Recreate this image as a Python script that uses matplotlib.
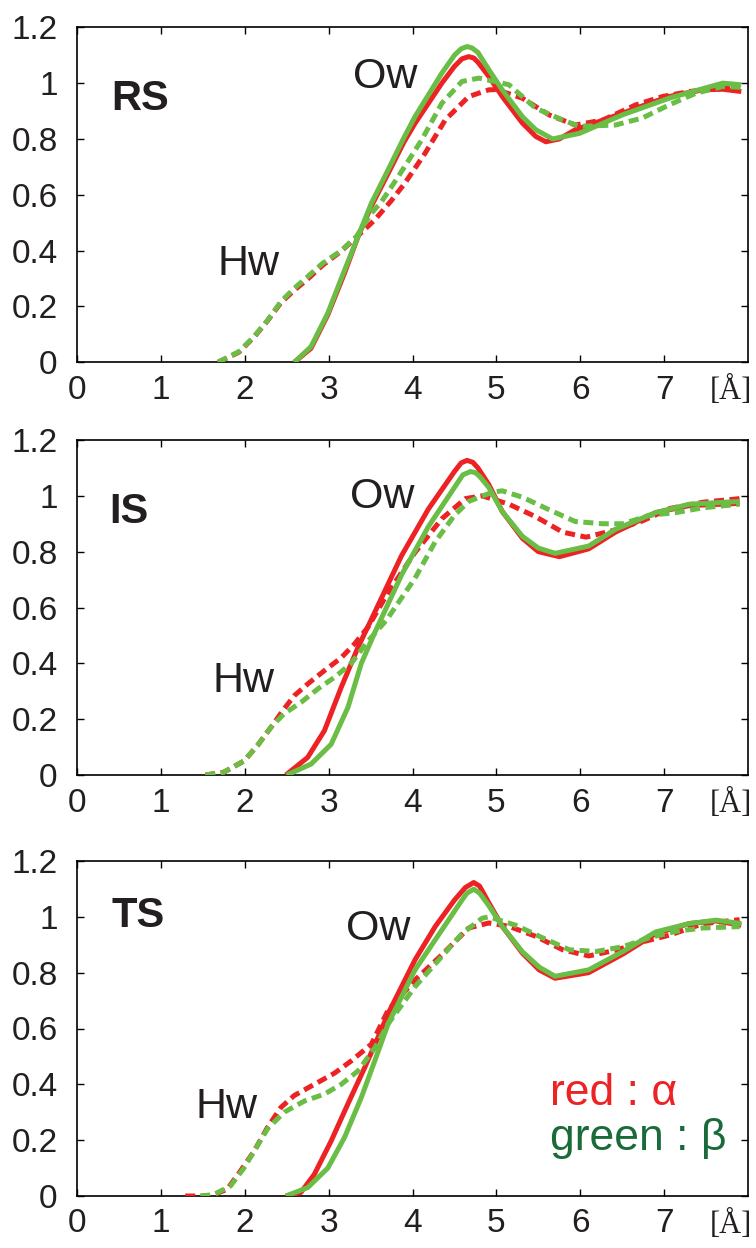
import matplotlib
matplotlib.use("Agg")
import matplotlib.pyplot as plt

# ---------------- data ----------------
panels = ["RS", "IS", "TS"]

# RS
rs_ow_a_x = [2.59, 2.79, 2.99, 3.19, 3.35, 3.51, 3.71, 3.9, 4.03, 4.35, 4.5, 4.59, 4.67, 4.73, 4.78, 4.91, 5.07, 5.31, 5.47, 5.59, 5.75, 5.94, 6.2, 6.5, 6.8, 7.06, 7.45, 7.7, 7.92]
rs_ow_a_y = [0.0, 0.05, 0.17, 0.32, 0.45, 0.56, 0.677, 0.79, 0.856, 1.0, 1.06, 1.087, 1.095, 1.09, 1.075, 1.024, 0.952, 0.857, 0.809, 0.79, 0.80, 0.833, 0.86, 0.892, 0.925, 0.952, 0.976, 0.978, 0.97]
rs_ow_b_x = [2.59, 2.79, 2.99, 3.19, 3.35, 3.51, 3.71, 3.89, 4.03, 4.35, 4.5, 4.58, 4.65, 4.71, 4.78, 4.91, 5.07, 5.31, 5.47, 5.67, 5.99, 6.5, 7.06, 7.4, 7.7, 7.92]
rs_ow_b_y = [0.0, 0.056, 0.176, 0.33, 0.45, 0.57, 0.69, 0.80, 0.88, 1.036, 1.10, 1.123, 1.131, 1.126, 1.11, 1.048, 0.976, 0.88, 0.833, 0.80, 0.82, 0.886, 0.946, 0.975, 1.0, 0.994]
rs_hw_a_x = [1.68, 1.93, 2.11, 2.27, 2.43, 2.59, 2.75, 2.93, 3.15, 3.33, 3.55, 3.75, 3.91, 4.15, 4.39, 4.67, 4.91, 5.0, 5.31, 5.63, 5.94, 6.27, 6.66, 6.98, 7.3, 7.9]
rs_hw_a_y = [0.0, 0.036, 0.09, 0.148, 0.213, 0.258, 0.298, 0.348, 0.398, 0.448, 0.51, 0.58, 0.642, 0.749, 0.868, 0.952, 0.976, 0.977, 0.946, 0.886, 0.85, 0.868, 0.922, 0.952, 0.97, 0.988]
rs_hw_b_x = [1.68, 1.93, 2.11, 2.27, 2.43, 2.59, 2.75, 2.93, 3.15, 3.33, 3.51, 3.63, 3.83, 4.11, 4.35, 4.59, 4.79, 5.07, 5.15, 5.47, 5.79, 5.99, 6.42, 6.74, 7.06, 7.38, 7.7, 7.92]
rs_hw_b_y = [0.0, 0.038, 0.092, 0.15, 0.217, 0.265, 0.307, 0.355, 0.40, 0.45, 0.534, 0.575, 0.665, 0.797, 0.928, 1.006, 1.018, 1.0, 0.994, 0.91, 0.868, 0.845, 0.85, 0.875, 0.922, 0.964, 0.988, 0.985]

# IS
is_ow_a_x = [2.49, 2.75, 2.95, 3.15, 3.35, 3.55, 3.87, 4.19, 4.5, 4.58, 4.65, 4.72, 4.78, 4.91, 5.07, 5.31, 5.5, 5.75, 6.1, 6.42, 6.9, 7.3, 7.9]
is_ow_a_y = [0.0, 0.063, 0.159, 0.314, 0.457, 0.583, 0.786, 0.953, 1.087, 1.118, 1.127, 1.12, 1.10, 1.04, 0.944, 0.848, 0.80, 0.782, 0.81, 0.87, 0.94, 0.965, 0.973]
is_ow_b_x = [2.5, 2.79, 3.03, 3.23, 3.39, 3.55, 3.87, 4.19, 4.5, 4.6, 4.69, 4.75, 4.8, 4.91, 5.07, 5.31, 5.5, 5.7, 6.1, 6.42, 6.9, 7.3, 7.9]
is_ow_b_y = [0.0, 0.039, 0.11, 0.242, 0.40, 0.51, 0.717, 0.89, 1.03, 1.075, 1.087, 1.083, 1.07, 1.03, 0.944, 0.855, 0.813, 0.794, 0.82, 0.88, 0.94, 0.97, 0.98]
is_hw_a_x = [1.53, 1.75, 1.99, 2.15, 2.31, 2.47, 2.59, 2.75, 2.95, 3.15, 3.31, 3.47, 3.71, 4.03, 4.35, 4.63, 4.83, 5.15, 5.47, 5.79, 6.07, 6.42, 6.74, 7.07, 7.46, 7.9]
is_hw_a_y = [0.0, 0.01, 0.05, 0.105, 0.17, 0.237, 0.284, 0.326, 0.374, 0.42, 0.47, 0.53, 0.654, 0.797, 0.918, 0.99, 1.0, 0.97, 0.925, 0.87, 0.852, 0.878, 0.91, 0.955, 0.977, 0.99]
is_hw_b_x = [1.53, 1.75, 1.99, 2.15, 2.31, 2.47, 2.67, 2.87, 3.07, 3.27, 3.47, 3.69, 4.03, 4.27, 4.5, 4.67, 4.95, 5.07, 5.31, 5.63, 5.94, 6.27, 6.51, 6.82, 7.14, 7.46, 7.9]
is_hw_b_y = [0.0, 0.01, 0.05, 0.105, 0.17, 0.22, 0.26, 0.308, 0.35, 0.40, 0.48, 0.555, 0.705, 0.835, 0.93, 0.98, 1.013, 1.018, 0.995, 0.95, 0.908, 0.90, 0.90, 0.93, 0.94, 0.957, 0.97]

# TS
ts_ow_a_x = [2.49, 2.67, 2.83, 3.03, 3.23, 3.43, 3.57, 3.71, 4.03, 4.27, 4.5, 4.63, 4.73, 4.8, 4.91, 5.07, 5.31, 5.51, 5.7, 6.1, 6.51, 6.9, 7.3, 7.62, 7.92]
ts_ow_a_y = [0.0, 0.013, 0.078, 0.197, 0.33, 0.46, 0.555, 0.654, 0.846, 0.965, 1.06, 1.105, 1.123, 1.11, 1.05, 0.966, 0.87, 0.81, 0.78, 0.80, 0.867, 0.94, 0.976, 0.985, 0.97]
ts_ow_b_x = [2.49, 2.75, 2.99, 3.19, 3.39, 3.55, 3.71, 4.03, 4.35, 4.59, 4.65, 4.73, 4.8, 4.91, 5.07, 5.31, 5.51, 5.7, 6.1, 6.51, 6.9, 7.3, 7.62, 7.92]
ts_ow_b_y = [0.0, 0.03, 0.10, 0.21, 0.353, 0.484, 0.617, 0.81, 0.953, 1.06, 1.085, 1.099, 1.085, 1.04, 0.966, 0.875, 0.82, 0.787, 0.81, 0.876, 0.946, 0.976, 0.988, 0.976]
ts_hw_a_x = [1.29, 1.59, 1.79, 1.95, 2.11, 2.27, 2.43, 2.59, 2.83, 3.07, 3.27, 3.51, 3.71, 4.03, 4.35, 4.67, 4.91, 5.15, 5.47, 5.79, 6.1, 6.42, 6.74, 7.07, 7.46, 7.9]
ts_hw_a_y = [0.0, 0.0, 0.024, 0.09, 0.16, 0.245, 0.317, 0.36, 0.40, 0.44, 0.484, 0.544, 0.666, 0.774, 0.864, 0.96, 0.978, 0.966, 0.93, 0.882, 0.86, 0.88, 0.91, 0.935, 0.975, 0.99]
ts_hw_b_x = [1.47, 1.63, 1.83, 1.99, 2.11, 2.27, 2.47, 2.71, 2.95, 3.15, 3.35, 3.55, 3.71, 4.03, 4.35, 4.59, 4.83, 4.91, 5.23, 5.55, 5.87, 6.19, 6.51, 6.82, 7.14, 7.46, 7.9]
ts_hw_b_y = [0.0, 0.005, 0.036, 0.10, 0.16, 0.24, 0.30, 0.34, 0.365, 0.40, 0.448, 0.53, 0.617, 0.75, 0.858, 0.94, 0.995, 1.0, 0.97, 0.925, 0.882, 0.876, 0.893, 0.925, 0.948, 0.96, 0.965]

series = {
    "RS": [(rs_ow_a_x, rs_ow_a_y), (rs_ow_b_x, rs_ow_b_y), (rs_hw_a_x, rs_hw_a_y), (rs_hw_b_x, rs_hw_b_y)],
    "IS": [(is_ow_a_x, is_ow_a_y), (is_ow_b_x, is_ow_b_y), (is_hw_a_x, is_hw_a_y), (is_hw_b_x, is_hw_b_y)],
    "TS": [(ts_ow_a_x, ts_ow_a_y), (ts_ow_b_x, ts_ow_b_y), (ts_hw_a_x, ts_hw_a_y), (ts_hw_b_x, ts_hw_b_y)],
}

x_ticks = [0, 1, 2, 3, 4, 5, 6, 7]
x_tick_labels = ["0", "1", "2", "3", "4", "5", "6", "7"]
y_ticks = [0, 0.2, 0.4, 0.6, 0.8, 1.0, 1.2]
y_tick_labels = ["0", "0.2", "0.4", "0.6", "0.8", "1", "1.2"]

# label positions (data coords)
ow_pos = {"RS": (3.29, 0.983), "IS": (3.25, 0.957), "TS": (3.21, 0.918)}
hw_pos = {"RS": (1.67, 0.313), "IS": (1.62, 0.297), "TS": (1.41, 0.28)}
name_pos = {"RS": (0.41, 0.904), "IS": (0.39, 0.903), "TS": (0.41, 0.964)}

# ---------------- style ----------------
RED = "#ED2224"
GREEN = "#6ABD45"
DKGREEN = "#1B6B3A"
TXT = "#231F20"
TICKFONT = ["Liberation Sans Narrow", "Liberation Sans", "DejaVu Sans"]
SANS = ["Liberation Sans", "DejaVu Sans"]

fig = plt.figure(figsize=(7.56, 12.48), dpi=100)
left, width, height = 77 / 756, (748 - 77) / 756, 335 / 1248
bottoms = [(1248 - 362.3) / 1248, (1248 - 775) / 1248, (1248 - 1196) / 1248]

for name, bottom in zip(panels, bottoms):
    ax = fig.add_axes([left, bottom, width, height])
    (oa, ob, ha, hb) = series[name]
    lw = 3.6
    ax.plot(oa[0], oa[1], color=RED, lw=lw, solid_capstyle="butt", solid_joinstyle="round", zorder=3)
    ax.plot(ob[0], ob[1], color=GREEN, lw=lw, solid_capstyle="butt", solid_joinstyle="round", zorder=4)
    ax.plot(ha[0], ha[1], color=RED, lw=lw, dashes=(2.0, 1.1), dash_capstyle="butt", zorder=3)
    ax.plot(hb[0], hb[1], color=GREEN, lw=lw, dashes=(2.0, 1.1), dash_capstyle="butt", zorder=4)

    ax.set_xlim(0, 8)
    ax.set_ylim(0, 1.2)
    ax.set_xticks(x_ticks)
    ax.set_xticklabels(x_tick_labels)
    ax.set_yticks(y_ticks)
    ax.set_yticklabels(y_tick_labels)
    ax.tick_params(direction="in", length=5, width=1.0, top=True, right=True,
                   labelsize=24, colors="black")
    ax.tick_params(axis="x", pad=9)
    ax.tick_params(axis="y", pad=14)
    for lab in ax.get_xticklabels() + ax.get_yticklabels():
        lab.set_family(TICKFONT)
        lab.set_color(TXT)
    for sp in ax.spines.values():
        sp.set_linewidth(1.2)

    ax.annotate("[Å]", xy=(1.006, 0), xycoords="axes fraction", xytext=(0, -10),
                textcoords="offset points", ha="right", va="top",
                fontsize=22, family=["Liberation Serif", "DejaVu Serif"], color=TXT,
                annotation_clip=False)

    ax.text(*name_pos[name], name, fontsize=30, fontweight="bold", family=SANS,
            color=TXT, ha="left", va="baseline")
    ax.text(*ow_pos[name], "Ow", fontsize=31, family=SANS, color=TXT, ha="left", va="baseline")
    ax.text(*hw_pos[name], "Hw", fontsize=31, family=SANS, color=TXT, ha="left", va="baseline")

    if name == "TS":
        ax.text(5.64, 0.326, "red : α", fontsize=32, family=SANS, color=RED,
                ha="left", va="baseline")
        ax.text(5.64, 0.165, "green : β", fontsize=32, family=SANS, color=DKGREEN,
                ha="left", va="baseline")

fig.savefig("out.png", dpi=100)
